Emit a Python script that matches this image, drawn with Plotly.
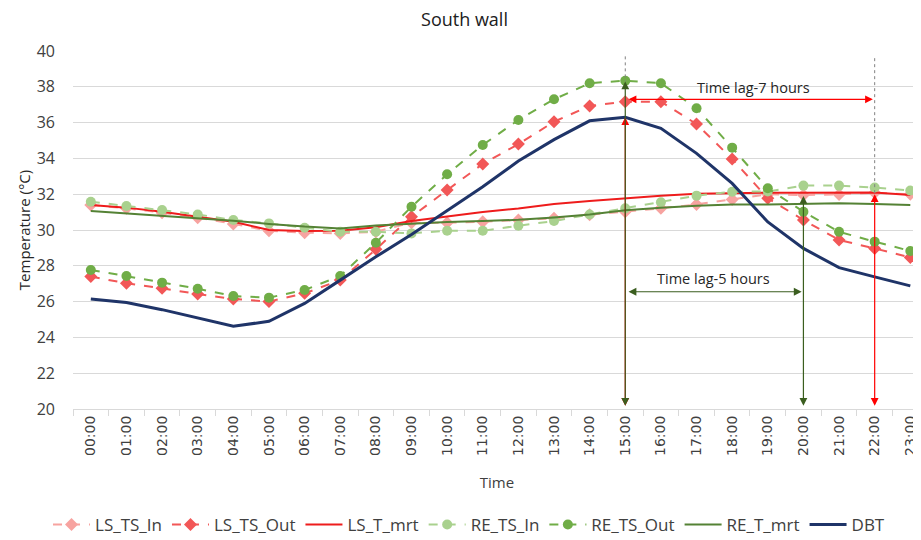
import plotly.graph_objects as go

hours = [f"{h:02d}:00" for h in range(24)]

dbt = [26.15, 25.95, 25.55, 25.1, 24.62, 24.9, 25.9, 27.2, 28.5, 29.75, 31.1, 32.42,
       33.85, 35.05, 36.1, 36.3, 35.68, 34.28, 32.6, 30.45, 28.97, 27.9, 27.38, 26.88]
ls_ts_out = [27.4, 27.02, 26.74, 26.42, 26.15, 26.0, 26.46, 27.2, 28.92, 30.74, 32.23, 33.69,
             34.8, 36.05, 36.93, 37.17, 37.17, 35.92, 33.97, 31.77, 30.56, 29.44, 28.97, 28.47]
re_ts_out = [27.77, 27.43, 27.06, 26.72, 26.31, 26.22, 26.65, 27.43, 29.29, 31.3, 33.11, 34.75,
             36.15, 37.3, 38.2, 38.34, 38.2, 36.8, 34.6, 32.33, 31.02, 29.9, 29.35, 28.83]
ls_ts_in = [31.4, 31.21, 30.97, 30.69, 30.34, 29.96, 29.85, 29.81, 29.9, 30.41, 30.41, 30.46,
            30.56, 30.65, 30.85, 31.02, 31.21, 31.43, 31.71, 32.0, 31.95, 31.99, 32.08, 32.0]
re_ts_in = [31.58, 31.34, 31.12, 30.87, 30.56, 30.37, 30.13, 29.9, 29.9, 29.81, 29.96, 29.96,
            30.24, 30.5, 30.87, 31.21, 31.55, 31.92, 32.14, 32.15, 32.48, 32.48, 32.37, 32.2]
ls_t_mrt = [31.4, 31.25, 31.02, 30.74, 30.46, 30.0, 29.94, 29.96, 30.15, 30.5, 30.75, 31.0,
            31.2, 31.45, 31.62, 31.77, 31.92, 32.02, 32.07, 32.08, 32.08, 32.08, 32.1, 31.95]
re_t_mrt = [31.06, 30.93, 30.8, 30.66, 30.52, 30.34, 30.19, 30.09, 30.25, 30.35, 30.45, 30.5,
            30.57, 30.7, 30.87, 31.1, 31.25, 31.35, 31.42, 31.43, 31.45, 31.5, 31.45, 31.4]

ytick_vals = list(range(20, 41, 2))

FONT = "Open Sans"
RED = "#ff0000"
DKGREEN = "#3b5e1f"

fig = go.Figure()

fig.add_trace(go.Scatter(x=hours, y=ls_ts_in, name="LS_TS_In", mode="lines+markers",
                         line=dict(color="#f7a3a0", width=2, dash="dash"),
                         marker=dict(symbol="diamond", size=10, color="#f7a3a0")))
fig.add_trace(go.Scatter(x=hours, y=ls_ts_out, name="LS_TS_Out", mode="lines+markers",
                         line=dict(color="#f25757", width=2, dash="dash"),
                         marker=dict(symbol="diamond", size=10, color="#f25757")))
fig.add_trace(go.Scatter(x=hours, y=ls_t_mrt, name="LS_T_mrt", mode="lines",
                         line=dict(color="#ee1c1c", width=2)))
fig.add_trace(go.Scatter(x=hours, y=re_ts_in, name="RE_TS_In", mode="lines+markers",
                         line=dict(color="#a9d18e", width=2, dash="dash"),
                         marker=dict(symbol="circle", size=10, color="#a9d18e")))
fig.add_trace(go.Scatter(x=hours, y=re_ts_out, name="RE_TS_Out", mode="lines+markers",
                         line=dict(color="#70ad47", width=2, dash="dash"),
                         marker=dict(symbol="circle", size=10, color="#70ad47")))
fig.add_trace(go.Scatter(x=hours, y=re_t_mrt, name="RE_T_mrt", mode="lines",
                         line=dict(color="#548235", width=2)))
fig.add_trace(go.Scatter(x=hours, y=dbt, name="DBT", mode="lines",
                         line=dict(color="#1f3468", width=3)))

# dotted guide lines
fig.add_shape(type="line", x0=15, x1=15, y0=39.7, y1=38.3, xref="x", yref="y",
              line=dict(color="#808080", width=1, dash="dot"))
fig.add_shape(type="line", x0=22, x1=22, y0=39.6, y1=32.0, xref="x", yref="y",
              line=dict(color="#808080", width=1, dash="dot"))

def arrow(x0, y0, x1, y1, color, both=True):
    fig.add_annotation(x=x1, y=y1, ax=x0, ay=y0, xref="x", yref="y", axref="x", ayref="y",
                       text="", showarrow=True, arrowhead=2, arrowsize=1.3, arrowwidth=1.2,
                       arrowcolor=color, arrowside="end+start" if both else "end",
                       startarrowhead=2, startarrowsize=1.3)

# red arrows
arrow(15, 20.1, 15, 36.3, RED)
arrow(22, 20.1, 22, 32.0, RED)
arrow(15.05, 37.3, 21.95, 37.3, RED)
# green arrows
arrow(15, 20.1, 15, 38.3, DKGREEN)
arrow(20, 20.1, 20, 31.9, DKGREEN)
arrow(15.05, 26.55, 19.95, 26.55, DKGREEN)

fig.add_annotation(x=18.6, y=37.95, text="Time lag-7 hours", showarrow=False,
                   xref="x", yref="y", font=dict(family=FONT, size=14.5, color="#262626"))
fig.add_annotation(x=17.47, y=27.3, text="Time lag-5 hours", showarrow=False,
                   xref="x", yref="y", font=dict(family=FONT, size=14.5, color="#262626"))

# the page body adds an 8px offset; the figure is sized to fill the rest of the window
fig.update_layout(
    width=913, height=532,
    margin=dict(l=65, r=0, t=43, b=131, autoexpand=False),
    paper_bgcolor="white", plot_bgcolor="white",
    font=dict(family=FONT, color="#404040"),
    title=dict(text="South wall", x=0.5, xanchor="center", y=0.978, yanchor="middle",
               automargin=False,
               font=dict(family=FONT, size=18, color="#202020")),
    showlegend=True,
    legend=dict(orientation="h", x=0.467, xanchor="center", y=-0.324, yanchor="middle",
                font=dict(family=FONT, size=17, color="#404040"), itemwidth=37,
                tracegroupgap=0),
    xaxis=dict(type="category", range=[-0.5, 23.3], tickangle=-90, automargin=False,
               tickfont=dict(family="DejaVu Sans", size=14, color="#404040"),
               showgrid=False, showline=True, linecolor="#d9d9d9", linewidth=1,
               ticks="outside", tickson="boundaries", ticklen=6, tickcolor="#d9d9d9",
               title=dict(text="Time", font=dict(family=FONT, size=15, color="#404040"),
                          standoff=22)),
    yaxis=dict(range=[20, 40], tickvals=ytick_vals, showgrid=True, gridcolor="#d9d9d9",
               zeroline=False, showline=False, ticks="", automargin=False,
               tickfont=dict(family=FONT, size=16, color="#404040"),
               ticklabelstandoff=17,
               title=dict(text="Temperature (°C)", font=dict(family=FONT, size=15, color="#262626"),
                          standoff=2)),
)

fig.write_html("out.html")
